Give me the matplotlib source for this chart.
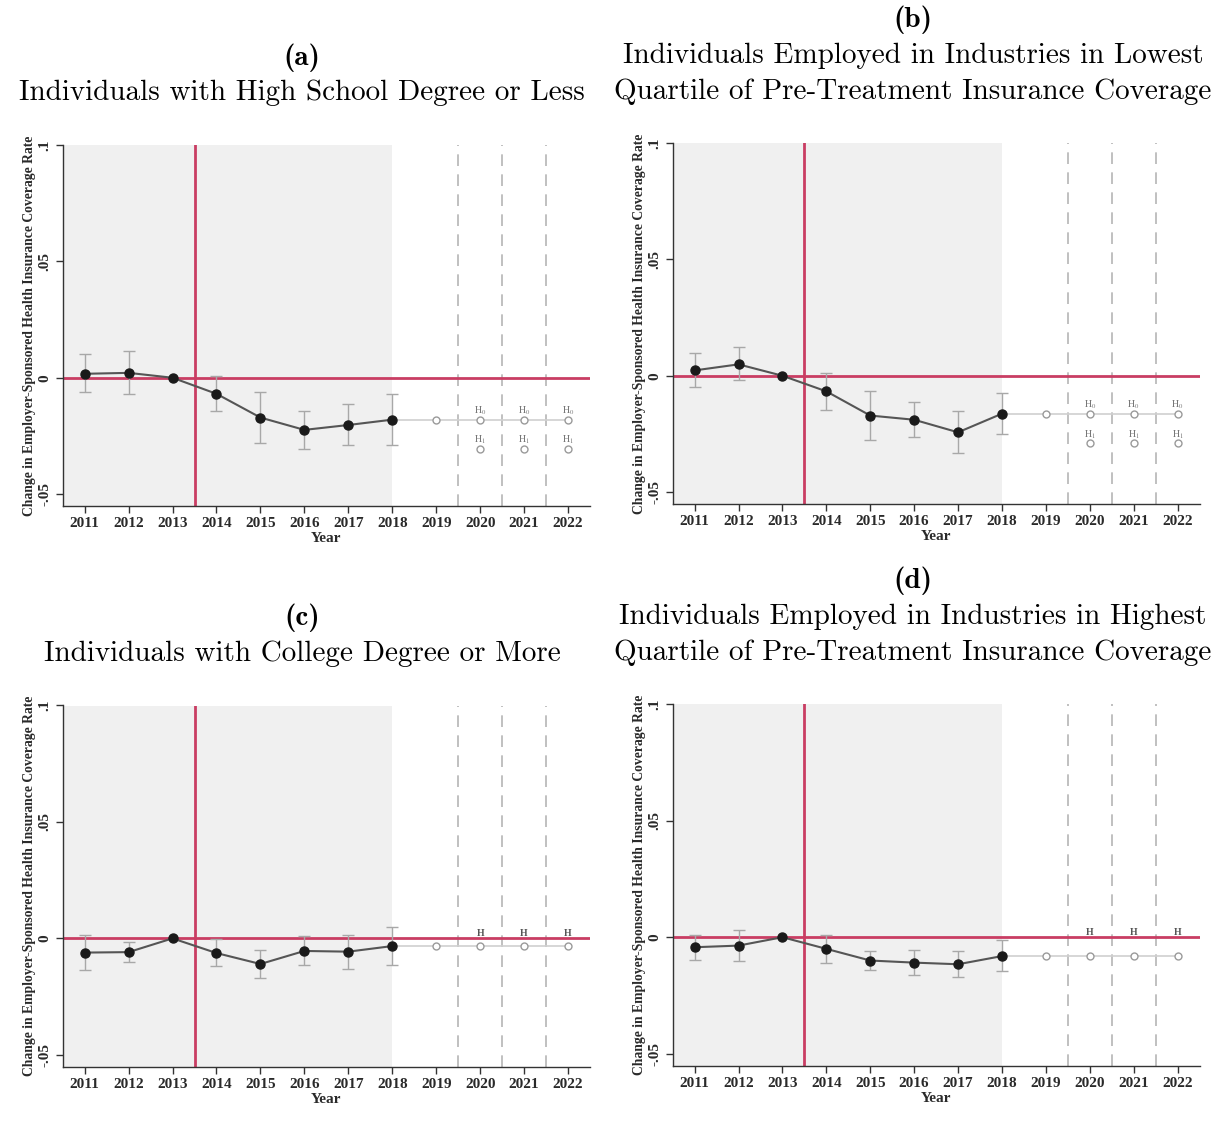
import numpy as np
import matplotlib
matplotlib.use("Agg")
import matplotlib.pyplot as plt

plt.rcParams['mathtext.fontset'] = 'stix'

years = [2011, 2012, 2013, 2014, 2015, 2016, 2017, 2018]
future_years = [2019, 2020, 2021, 2022]
test_years = [2020, 2021, 2022]
year_labels = ['2011', '2012', '2013', '2014', '2015', '2016', '2017', '2018',
               '2019', '2020', '2021', '2022']
ytick_vals = [-0.05, 0, 0.05, 0.1]
ytick_labels = ['-.05', '0', '.05', '.1']

# (a) high school or less
a_est = [0.0017, 0.0021, 0.0, -0.0069, -0.0171, -0.0224, -0.0203, -0.0180]
a_hi = [0.0100, 0.0117, 0.0, 0.0007, -0.0063, -0.0141, -0.0114, -0.0070]
a_lo = [-0.0060, -0.0069, 0.0, -0.0144, -0.0279, -0.0306, -0.0289, -0.0287]
a_h1 = -0.0304

# (b) lowest quartile industries
b_est = [0.0023, 0.0049, 0.0, -0.0067, -0.0171, -0.0189, -0.0243, -0.0163]
b_hi = [0.0096, 0.0123, 0.0, 0.0011, -0.0064, -0.0113, -0.0153, -0.0074]
b_lo = [-0.0050, -0.0020, 0.0, -0.0146, -0.0277, -0.0264, -0.0331, -0.0249]
b_h1 = -0.0289

# (c) college or more
c_est = [-0.0061, -0.0059, 0.0, -0.0063, -0.0110, -0.0054, -0.0057, -0.0033]
c_hi = [0.0016, -0.0016, 0.0, -0.0003, -0.0050, 0.0010, 0.0016, 0.0049]
c_lo = [-0.0137, -0.0103, 0.0, -0.0119, -0.0169, -0.0114, -0.0130, -0.0114]

# (d) highest quartile industries
d_est = [-0.0043, -0.0036, 0.0, -0.0050, -0.0100, -0.0109, -0.0116, -0.0081]
d_hi = [0.0010, 0.0033, 0.0, 0.0011, -0.0060, -0.0053, -0.0059, -0.0011]
d_lo = [-0.0097, -0.0103, 0.0, -0.0111, -0.0139, -0.0160, -0.0170, -0.0147]

W, H = 1221, 1123
fig = plt.figure(figsize=(W / 100, H / 100), dpi=100)

RED = '#c93d63'
TICK_FONT = 'Liberation Serif'
TXT = '#2a2a2a'


def px_axes(l, t, r, b):
    return fig.add_axes([l / W, 1 - b / H, (r - l) / W, (b - t) / H])


def draw_panel(ax, est, lo, hi, h1=None):
    ax.set_xlim(2010.5, 2022.5)
    ax.set_ylim(-0.0551, 0.1)
    ax.axvspan(2010.5, 2018, color='#f0f0f0', zorder=0, lw=0)
    for xv in [2019.5, 2020.5, 2021.5]:
        ax.axvline(xv, color='#b5b5b5', lw=1.2, ls=(0, (7, 5)), zorder=1)
    ax.axhline(0, color=RED, lw=2, zorder=2)
    ax.axvline(2013.5, color=RED, lw=2, zorder=2)

    # confidence intervals (2013 is the reference year, no bar)
    idx = [i for i in range(len(years)) if hi[i] != lo[i]]
    xs = [years[i] for i in idx]
    mid = [(hi[i] + lo[i]) / 2 for i in idx]
    half = [(hi[i] - lo[i]) / 2 for i in idx]
    ax.errorbar(xs, mid, yerr=half, fmt='none', ecolor='#a8a8a8', elinewidth=1,
                capsize=4, capthick=1, zorder=3)

    # projection under H0
    last = est[-1]
    ax.plot([years[-1]] + future_years, [last] * (len(future_years) + 1),
            color='#d0d0d0', lw=1.2, zorder=3)
    ax.plot(future_years, [last] * len(future_years), 'o', ms=5,
            mfc='white', mec='#9a9a9a', mew=1, zorder=4)
    if h1 is not None:
        ax.plot(test_years, [h1] * len(test_years), 'o', ms=5,
                mfc='white', mec='#9a9a9a', mew=1, zorder=4)
        for yr in test_years:
            ax.text(yr, last + 0.0037, r'$\mathrm{H}_0$', ha='center', va='center',
                    fontsize=7, color='#777777')
            ax.text(yr, h1 + 0.0037, r'$\mathrm{H}_1$', ha='center', va='center',
                    fontsize=7, color='#777777')
    else:
        for yr in test_years:
            ax.text(yr, 0.0022, 'H', ha='center', va='center',
                    fontsize=7, color='#555555', family=TICK_FONT, weight='bold')

    ax.plot(years, est, color='#555555', lw=1.5, zorder=5)
    ax.plot(years, est, 'o', color='#1a1a1a', ms=6.5, zorder=6)

    for s in ['top', 'right']:
        ax.spines[s].set_visible(False)
    for s in ['left', 'bottom']:
        ax.spines[s].set_color('#333333')
        ax.spines[s].set_linewidth(1)
    ax.set_xticks(list(range(2011, 2023)), year_labels)
    ax.set_yticks(ytick_vals, ytick_labels)
    for lab in ax.get_yticklabels():
        lab.set_rotation(90)
        lab.set_va('center')
    ax.tick_params(axis='both', length=5, width=1, color='#333333',
                   labelsize=11, pad=3)
    for lab in ax.get_xticklabels() + ax.get_yticklabels():
        lab.set_family(TICK_FONT)
        lab.set_weight('bold')
        lab.set_color(TXT)
    ax.set_xlabel('Year', family=TICK_FONT, fontsize=11, weight='bold',
                  labelpad=1.5, color=TXT)
    ax.set_ylabel('Change in Employer-Sponsored Health Insurance Coverage Rate',
                  family=TICK_FONT, fontsize=9.8, weight='bold', labelpad=2,
                  color=TXT)


ax_a = px_axes(62.7, 145, 590, 506)
ax_b = px_axes(672.7, 143, 1199.5, 504)
ax_c = px_axes(62.7, 705.5, 590, 1066.7)
ax_d = px_axes(672.7, 704, 1199.5, 1065.7)

draw_panel(ax_a, a_est, a_lo, a_hi, a_h1)
draw_panel(ax_b, b_est, b_lo, b_hi, b_h1)
draw_panel(ax_c, c_est, c_lo, c_hi)
draw_panel(ax_d, d_est, d_lo, d_hi)


def ftext(x, y, s, bold=False):
    fig.text(x / W, 1 - y / H, s, ha='center', va='center', fontsize=21,
             family='cmb10' if bold else 'cmr10')


ftext(302, 58, '(a)', bold=True)
ftext(302, 93, 'Individuals with High School Degree or Less')
ftext(913, 20, '(b)', bold=True)
ftext(913, 56, 'Individuals Employed in Industries in Lowest')
ftext(913, 92, 'Quartile of Pre-Treatment Insurance Coverage')
ftext(302, 618, '(c)', bold=True)
ftext(302, 654, 'Individuals with College Degree or More')
ftext(913, 581, '(d)', bold=True)
ftext(913, 617, 'Individuals Employed in Industries in Highest')
ftext(913, 653, 'Quartile of Pre-Treatment Insurance Coverage')

fig.savefig('out.png', dpi=100)
